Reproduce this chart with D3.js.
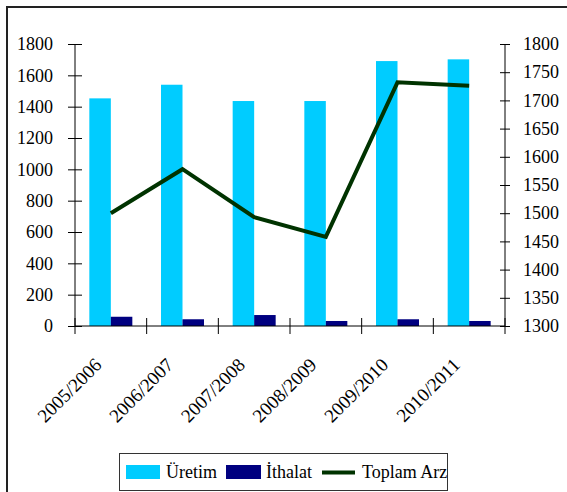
<!DOCTYPE html>
<html>
<head>
<meta charset="utf-8">
<script src="https://cdn.jsdelivr.net/npm/d3@7"></script>
<style>
    body { margin: 0; background: #fff; }
    svg { display: block; }
    text { font-family: "Liberation Serif", "Times New Roman", serif; fill: #000; }
</style>
</head>
<body>
<svg id="chart" width="567" height="492"></svg>
<script>
// data
const seasons = ["2005/2006", "2006/2007", "2007/2008", "2008/2009", "2009/2010", "2010/2011"];
const uretim = [1453, 1540, 1436, 1436, 1691, 1702];
const ithalat = [59, 43, 70, 32, 43, 32];
const toplamArz = [1500, 1578, 1493, 1458, 1732, 1726];
const leftTicks = [0, 200, 400, 600, 800, 1000, 1200, 1400, 1600, 1800];
const rightTicks = [1300, 1350, 1400, 1450, 1500, 1550, 1600, 1650, 1700, 1750, 1800];

const colUretim = "#00ccff";
const colIthalat = "#000080";
const colArz = "#003300";

const plotL = 75, plotR = 505, plotT = 44, plotB = 326;

const svg = d3.select("#chart");

// outer frame (right and bottom edges fall outside the picture)
svg.append("rect")
    .attr("x", 7).attr("y", 7)
    .attr("width", 600).attr("height", 600)
    .attr("fill", "none")
    .attr("stroke", "#222")
    .attr("stroke-width", 2);

const x = d3.scaleBand()
    .domain(seasons)
    .range([plotL, plotR]);

const bw = x.bandwidth();
const x1 = d3.scaleBand()
    .domain(["u", "i"])
    .range([bw * 0.2, bw * 0.8]);

const yL = d3.scaleLinear().domain([0, 1800]).range([plotB, plotT]);
const yR = d3.scaleLinear().domain([1300, 1800]).range([plotB, plotT]);

// bars
const g = svg.append("g");
g.selectAll(".bar-u")
    .data(uretim)
    .join("rect")
    .attr("x", (d, i) => x(seasons[i]) + x1("u"))
    .attr("y", d => yL(d))
    .attr("width", x1.bandwidth())
    .attr("height", d => plotB - yL(d))
    .attr("fill", colUretim);

g.selectAll(".bar-i")
    .data(ithalat)
    .join("rect")
    .attr("x", (d, i) => x(seasons[i]) + x1("i"))
    .attr("y", d => yL(d))
    .attr("width", x1.bandwidth())
    .attr("height", d => plotB - yL(d))
    .attr("fill", colIthalat);

// left axis
const axL = svg.append("g")
    .attr("transform", "translate(" + plotL + ",0)")
    .call(d3.axisLeft(yL).tickValues(leftTicks).tickFormat(d3.format("d")).tickSize(7).tickPadding(15));
axL.attr("font-family", null);
axL.select(".domain").attr("d", "M0," + plotT + "V" + plotB).attr("stroke", "#000");
axL.selectAll(".tick line").attr("x1", -7).attr("x2", 7).attr("stroke", "#000");
axL.selectAll(".tick text").style("font-size", "18px");

// right axis
const axR = svg.append("g")
    .attr("transform", "translate(" + plotR + ",0)")
    .call(d3.axisRight(yR).tickValues(rightTicks).tickFormat(d3.format("d")).tickSize(5).tickPadding(13));
axR.attr("font-family", null);
axR.select(".domain").attr("d", "M0," + plotT + "V" + plotB).attr("stroke", "#000");
axR.selectAll(".tick line").attr("x1", -5).attr("x2", 5).attr("stroke", "#000");
axR.selectAll(".tick text").style("font-size", "18px");

// category axis with crossing ticks at the band edges
svg.append("line")
    .attr("x1", plotL).attr("x2", plotR)
    .attr("y1", plotB).attr("y2", plotB)
    .attr("stroke", "#000");
const edges = seasons.map(s => x(s)).concat([plotR]);
svg.selectAll(".cat-tick")
    .data(edges)
    .join("line")
    .attr("x1", d => d).attr("x2", d => d)
    .attr("y1", plotB - 8).attr("y2", plotB + 8)
    .attr("stroke", "#000");

svg.selectAll(".cat-label")
    .data(seasons)
    .join("text")
    .attr("transform", d => "translate(" + (x(d) + bw / 2 - 8) + "," + (plotB + 40) + ") rotate(-45)")
    .attr("text-anchor", "end")
    .style("font-size", "19px")
    .text(d => d);

// total supply line on the right axis
const line = d3.line()
    .x((d, i) => x(seasons[i]) + bw / 2)
    .y(d => yR(d));
svg.append("path")
    .datum(toplamArz)
    .attr("d", line)
    .attr("fill", "none")
    .attr("stroke", colArz)
    .attr("stroke-width", 4);

// legend
const lg = svg.append("g");
lg.append("rect")
    .attr("x", 119.5).attr("y", 453.5)
    .attr("width", 328).attr("height", 37)
    .attr("fill", "#fff")
    .attr("stroke", "#333");
lg.append("rect").attr("x", 126).attr("y", 465).attr("width", 34).attr("height", 14).attr("fill", colUretim);
lg.append("text").attr("x", 166).attr("y", 478).style("font-size", "18px").text("Üretim");
lg.append("rect").attr("x", 226).attr("y", 465).attr("width", 35).attr("height", 14).attr("fill", colIthalat);
lg.append("text").attr("x", 266).attr("y", 478).style("font-size", "18px").text("İthalat");
lg.append("line").attr("x1", 322).attr("x2", 355).attr("y1", 472.5).attr("y2", 472.5)
    .attr("stroke", colArz).attr("stroke-width", 4);
lg.append("text").attr("x", 362).attr("y", 478).style("font-size", "18px").text("Toplam Arz");
</script>
</body>
</html>
